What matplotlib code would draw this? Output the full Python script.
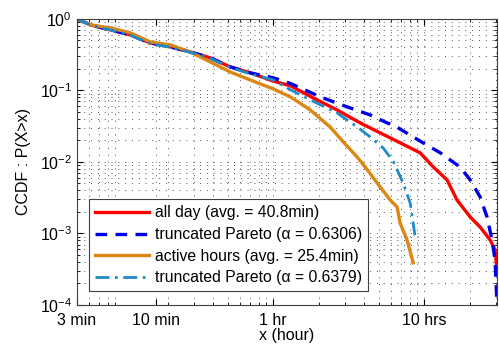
import numpy as np
import matplotlib
matplotlib.use('Agg')
import matplotlib.pyplot as plt
from matplotlib.ticker import LogLocator, NullFormatter

plt.rcParams['font.family'] = ['Liberation Sans', 'DejaVu Sans']
plt.rcParams['mathtext.fontset'] = 'custom'
plt.rcParams['mathtext.rm'] = 'Liberation Sans'
plt.rcParams['mathtext.it'] = 'Liberation Sans:italic'

# values (x in hours, y = CCDF)
allday_x = [0.05, 0.0614, 0.0833, 0.113, 0.153, 0.208, 0.282, 0.383, 0.519, 0.704, 1.0, 1.30,
            1.84, 2.65, 3.77, 5.11, 6.93, 9.41, 11.5, 14.2, 16.5, 20.2, 23.5, 27.4, 29.5, 30.4]
allday_y = [1.0, 0.824, 0.702, 0.597, 0.462, 0.406, 0.345, 0.285, 0.213, 0.176, 0.135, 0.116,
            0.0785, 0.0533, 0.0351, 0.0255, 0.0185, 0.0134, 0.0085, 0.0056, 0.00294, 0.0017,
            0.00123, 0.00081, 0.00059, 0.00031]

pareto1_x = [0.05, 0.0614, 0.0833, 0.113, 0.153, 0.208, 0.282, 0.383, 0.519, 0.704, 1.0, 1.30,
             2.05, 3.09, 4.39, 5.69, 6.24, 9.84, 12.8, 17.3, 20.2, 23.5, 26.1, 28.2, 29.5, 30.4]
pareto1_y = [1.0, 0.824, 0.702, 0.597, 0.462, 0.406, 0.345, 0.285, 0.213, 0.176, 0.15, 0.125,
             0.0811, 0.0588, 0.0454, 0.0351, 0.0329, 0.0185, 0.0134, 0.0085, 0.0056, 0.00324,
             0.0017, 0.00081, 0.00043, 0.0001]

active_x = [0.05, 0.0614, 0.0833, 0.113, 0.153, 0.208, 0.282, 0.383, 0.519, 0.704, 1.0, 1.30,
            1.76, 2.38, 2.91, 3.60, 4.07, 5.11, 5.96, 6.62, 6.93, 7.71, 8.46]
active_y = [1.0, 0.824, 0.748, 0.637, 0.477, 0.433, 0.345, 0.25, 0.181, 0.14, 0.105, 0.0811,
            0.0533, 0.0309, 0.0191, 0.0117, 0.0085, 0.00447, 0.00294, 0.00235, 0.0014, 0.00081,
            0.00039]

pareto2_x = [0.05, 0.0614, 0.0833, 0.113, 0.153, 0.208, 0.282, 0.383, 0.519, 0.704, 1.0, 1.30,
             1.76, 2.65, 3.60, 4.39, 5.35, 6.24, 7.26, 8.08, 8.46, 8.72]
pareto2_y = [1.0, 0.82, 0.70, 0.59, 0.45, 0.40, 0.34, 0.28, 0.21, 0.17, 0.14, 0.102,
             0.0736, 0.0484, 0.0309, 0.0224, 0.0157, 0.0102, 0.00508, 0.00267, 0.0014, 0.00089]

labels = ['all day (avg. = 40.8min)', 'truncated Pareto (\u03b1 = 0.6306)',
          'active hours (avg. = 25.4min)', 'truncated Pareto (\u03b1 = 0.6379)']
xtick_vals = [0.05, 1/6, 1, 10]
xtick_labels = ['3 min', '10 min', '1 hr', '10 hrs']

fig = plt.figure(figsize=(4.99, 3.49), dpi=100)
ax = fig.add_axes([0.154, 0.126, 0.842, 0.820])

ax.plot(allday_x, allday_y, color='#ff0000', lw=2.4, label=labels[0])
ax.plot(pareto1_x, pareto1_y, color='#0000e6', lw=2.4, ls=(0, (3.5, 2.5)), label=labels[1])
ax.plot(active_x, active_y, color='#dc8614', lw=2.4, label=labels[2])
ax.plot(pareto2_x, pareto2_y, color='#1f8bc6', lw=2.0, ls=(0, (5, 2, 1, 2)), label=labels[3])

ax.set_xscale('log')
ax.set_yscale('log')
ax.set_xlim(0.05, 30.4)
ax.set_ylim(1e-4, 1)
ax.set_xticks(xtick_vals)
ax.set_xticklabels(xtick_labels)
ax.xaxis.set_minor_locator(LogLocator(base=10, subs=np.arange(2, 10)))
ax.xaxis.set_minor_formatter(NullFormatter())
ax.yaxis.set_minor_locator(LogLocator(base=10, subs=np.arange(2, 10)))
ax.yaxis.set_minor_formatter(NullFormatter())
ax.tick_params(which='both', direction='in', top=True, right=True, labelsize=11.5)
ax.tick_params(axis='x', which='major', pad=6)
ax.tick_params(which='major', length=4)
ax.tick_params(which='minor', length=2)
ax.grid(True, which='both', color='#555555', ls=(0, (1, 6)), lw=0.7)
for s in ax.spines.values():
    s.set_linewidth(0.8)
    s.set_color('#404040')

ax.set_xlabel('x (hour)', fontsize=11.5, labelpad=0)
ax.set_ylabel('CCDF : P(X>x)', fontsize=11.5, labelpad=6)

leg = ax.legend(loc='lower left', fontsize=11.3, handlelength=3.4, handletextpad=0.4,
                labelspacing=0.42, borderpad=0.4, fancybox=False, framealpha=1,
                edgecolor='#404040', bbox_to_anchor=(0.01, 0.02))
leg.get_frame().set_linewidth(0.8)

fig.savefig('out.png', dpi=100)
